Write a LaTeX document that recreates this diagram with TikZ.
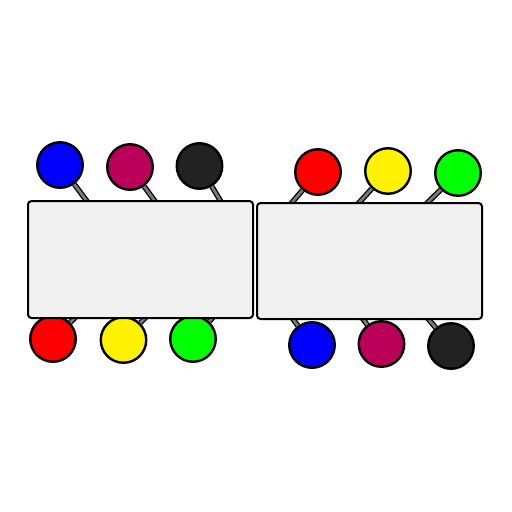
\documentclass[tikz,border=0pt]{standalone}
\begin{document}
\begin{tikzpicture}[x=1pt,y=-1pt,
  ball/.style={circle,draw=black,line width=2.4pt,minimum size=45.5pt,inner sep=0pt},
  tablebox/.style={rectangle,draw=black,line width=2pt,fill=tablegray,rounded corners=3.5pt,inner sep=0pt},
  stick/.style={line width=1.3pt,draw=black,double=stickgray,double distance=2.8pt}]
\definecolor{tablegray}{HTML}{F0F0F0}
\definecolor{stickgray}{HTML}{7A7A7A}
\definecolor{magentac}{HTML}{BA0058}
\definecolor{darkc}{HTML}{222222}
\useasboundingbox (0,0) rectangle (512,512);
% balls
\node[ball,fill=blue] (t1) at (60,165) {};
\node[ball,fill=magentac] (t2) at (130,167) {};
\node[ball,fill=darkc] (t3) at (199.5,166) {};
\node[ball,fill=red] (t4) at (318,172) {};
\node[ball,fill=yellow] (t5) at (388,171) {};
\node[ball,fill=green] (t6) at (458,173) {};
\node[ball,fill=red] (b1) at (53,339) {};
\node[ball,fill=yellow] (b2) at (123.5,340) {};
\node[ball,fill=green] (b3) at (193,339) {};
\node[ball,fill=blue] (b4) at (312,345) {};
\node[ball,fill=magentac] (b5) at (381.5,344) {};
\node[ball,fill=darkc] (b6) at (451,346) {};
% stick ends
\coordinate (s1) at (89,204);
\coordinate (s2) at (157,204);
\coordinate (s3) at (223,205);
\coordinate (s4) at (289,206);
\coordinate (s5) at (356,206);
\coordinate (s6) at (424,206);
\coordinate (e1) at (80,313);
\coordinate (e2) at (150,313);
\coordinate (e3) at (217,313);
\coordinate (e4) at (290,315);
\coordinate (e5) at (360,315);
\coordinate (e6) at (425,315);
% sticks
\draw[stick] (t1) -- (s1);
\draw[stick] (t2) -- (s2);
\draw[stick] (t3) -- (s3);
\draw[stick] (t4) -- (s4);
\draw[stick] (t5) -- (s5);
\draw[stick] (t6) -- (s6);
\draw[stick] (b1) -- (e1);
\draw[stick] (b2) -- (e2);
\draw[stick] (b3) -- (e3);
\draw[stick] (b4) -- (e4);
\draw[stick] (b5) -- (e5);
\draw[stick] (b6) -- (e6);
% tables
\node[tablebox,minimum width=225pt,minimum height=117pt] (L) at (140.5,259.5) {};
\node[tablebox,minimum width=225pt,minimum height=116pt] (R) at (369.5,261) {};
\end{tikzpicture}
\end{document}
